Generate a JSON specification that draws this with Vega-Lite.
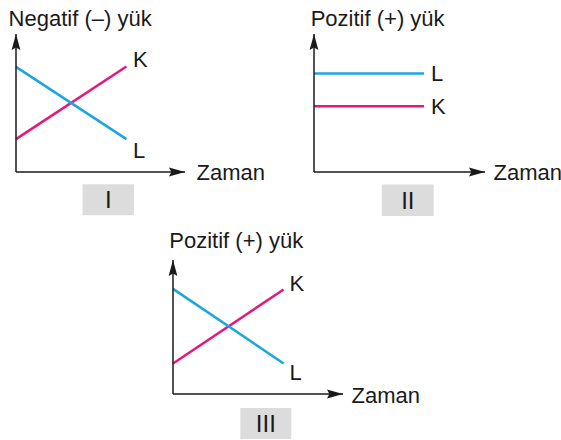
{
  "$schema": "https://vega.github.io/schema/vega-lite/v6.json",
  "padding": {"left": 8, "top": 7, "right": 0, "bottom": 2},
  "config": {
    "view": {"stroke": null},
    "font": "Liberation Sans",
    "axis": {"disable": true},
    "legend": {"disable": true},
    "text": {"color": "#1a1a1a", "fontSize": 22}
  },
  "spacing": 12,
  "vconcat": [
    {
      "bounds": "flush",
      "spacing": 129,
      "hconcat": [
        {
          "width": 169,
          "height": 138,
          "data": {"values": [
            {"seri": "K", "zaman": 0, "yuk": 1.0},
            {"seri": "K", "zaman": 0.98, "yuk": 3.21},
            {"seri": "L", "zaman": 0, "yuk": 3.2},
            {"seri": "L", "zaman": 0.98, "yuk": 1.0}
          ]},
          "layer": [
            {
              "mark": {"type": "line", "strokeWidth": 2.5},
              "encoding": {
                "x": {"field": "zaman", "type": "quantitative", "scale": {"domain": [0, 1.5], "nice": false}, "axis": null},
                "y": {"field": "yuk", "type": "quantitative", "scale": {"domain": [0, 4.2], "nice": false}, "axis": null},
                "color": {"field": "seri", "type": "nominal", "scale": {"domain": ["K", "L"], "range": ["#e6177a", "#1ba6df"]}, "legend": null}
              }
            },
            {
              "transform": [{"filter": "datum.zaman > 0 && datum.seri == 'K'"}],
              "mark": {"type": "text", "align": "left", "baseline": "alphabetic", "dx": 6.5, "dy": 0},
              "encoding": {"x": {"field": "zaman", "type": "quantitative"}, "y": {"field": "yuk", "type": "quantitative"}, "text": {"field": "seri"}}
            },
            {
              "transform": [{"filter": "datum.zaman > 0 && datum.seri == 'L'"}],
              "mark": {"type": "text", "align": "left", "baseline": "alphabetic", "dx": 6.5, "dy": 18.4},
              "encoding": {"x": {"field": "zaman", "type": "quantitative"}, "y": {"field": "yuk", "type": "quantitative"}, "text": {"field": "seri"}}
            },
            {
              "data": {"values": [{}]},
              "mark": {"type": "rule", "color": "#1a1a1a", "strokeWidth": 1.5},
              "encoding": {"x": {"datum": 0, "type": "quantitative"}, "y": {"datum": 0, "type": "quantitative"}, "y2": {"datum": 4.2}}
            },
            {
              "data": {"values": [{}]},
              "mark": {"type": "rule", "color": "#1a1a1a", "strokeWidth": 1.5},
              "encoding": {"x": {"datum": 0, "type": "quantitative"}, "x2": {"datum": 1.5}, "y": {"datum": 0, "type": "quantitative"}}
            },
            {
              "data": {"values": [{}]},
              "mark": {"type": "point", "shape": "M0,0L0.55,2L0,1.7L-0.55,2Z", "size": 256, "filled": true, "opacity": 1, "color": "#1a1a1a"},
              "encoding": {"x": {"datum": 0, "type": "quantitative"}, "y": {"datum": 4.2, "type": "quantitative"}}
            },
            {
              "data": {"values": [{}]},
              "mark": {"type": "point", "shape": "M0,0L-2,-0.55L-1.7,0L-2,0.55Z", "size": 256, "filled": true, "opacity": 1, "color": "#1a1a1a"},
              "encoding": {"x": {"datum": 1.5, "type": "quantitative"}, "y": {"datum": 0, "type": "quantitative"}}
            },
            {
              "data": {"values": [{}]},
              "mark": {"type": "text", "text": "Negatif (–) yük", "align": "left", "baseline": "alphabetic", "dx": -7.4, "dy": -8.3},
              "encoding": {"x": {"datum": 0, "type": "quantitative"}, "y": {"datum": 4.2, "type": "quantitative"}}
            },
            {
              "data": {"values": [{}]},
              "mark": {"type": "text", "text": "Zaman", "align": "left", "baseline": "alphabetic", "dx": 11.5, "dy": 7.6},
              "encoding": {"x": {"datum": 1.5, "type": "quantitative"}, "y": {"datum": 0, "type": "quantitative"}}
            },
            {
              "data": {"values": [{}]},
              "mark": {"type": "rect", "color": "#dcdcdc"},
              "encoding": {"x": {"datum": 0.591, "type": "quantitative"}, "x2": {"datum": 1.047}, "y": {"datum": -0.374, "type": "quantitative"}, "y2": {"datum": -1.318}}
            },
            {
              "data": {"values": [{}]},
              "mark": {"type": "text", "text": "I", "align": "center", "baseline": "alphabetic", "dy": 8.5, "fontSize": 24},
              "encoding": {"x": {"datum": 0.819, "type": "quantitative"}, "y": {"datum": -0.846, "type": "quantitative"}}
            }
          ]
        },
        {
          "width": 171,
          "height": 138,
          "data": {"values": [
            {"seri": "K", "zaman": 0, "yuk": 2.0},
            {"seri": "K", "zaman": 0.965, "yuk": 2.0},
            {"seri": "L", "zaman": 0, "yuk": 3.0},
            {"seri": "L", "zaman": 0.965, "yuk": 3.0}
          ]},
          "layer": [
            {
              "mark": {"type": "line", "strokeWidth": 2.5},
              "encoding": {
                "x": {"field": "zaman", "type": "quantitative", "scale": {"domain": [0, 1.5], "nice": false}, "axis": null},
                "y": {"field": "yuk", "type": "quantitative", "scale": {"domain": [0, 4.2], "nice": false}, "axis": null},
                "color": {"field": "seri", "type": "nominal", "scale": {"domain": ["K", "L"], "range": ["#e6177a", "#1ba6df"]}, "legend": null}
              }
            },
            {
              "transform": [{"filter": "datum.zaman > 0"}],
              "mark": {"type": "text", "align": "left", "baseline": "alphabetic", "dx": 7, "dy": 7.6},
              "encoding": {"x": {"field": "zaman", "type": "quantitative"}, "y": {"field": "yuk", "type": "quantitative"}, "text": {"field": "seri"}}
            },
            {
              "data": {"values": [{}]},
              "mark": {"type": "rule", "color": "#1a1a1a", "strokeWidth": 1.5},
              "encoding": {"x": {"datum": 0, "type": "quantitative"}, "y": {"datum": 0, "type": "quantitative"}, "y2": {"datum": 4.2}}
            },
            {
              "data": {"values": [{}]},
              "mark": {"type": "rule", "color": "#1a1a1a", "strokeWidth": 1.5},
              "encoding": {"x": {"datum": 0, "type": "quantitative"}, "x2": {"datum": 1.5}, "y": {"datum": 0, "type": "quantitative"}}
            },
            {
              "data": {"values": [{}]},
              "mark": {"type": "point", "shape": "M0,0L0.55,2L0,1.7L-0.55,2Z", "size": 256, "filled": true, "opacity": 1, "color": "#1a1a1a"},
              "encoding": {"x": {"datum": 0, "type": "quantitative"}, "y": {"datum": 4.2, "type": "quantitative"}}
            },
            {
              "data": {"values": [{}]},
              "mark": {"type": "point", "shape": "M0,0L-2,-0.55L-1.7,0L-2,0.55Z", "size": 256, "filled": true, "opacity": 1, "color": "#1a1a1a"},
              "encoding": {"x": {"datum": 1.5, "type": "quantitative"}, "y": {"datum": 0, "type": "quantitative"}}
            },
            {
              "data": {"values": [{}]},
              "mark": {"type": "text", "text": "Pozitif (+) yük", "align": "left", "baseline": "alphabetic", "dx": -3.3, "dy": -8.3},
              "encoding": {"x": {"datum": 0, "type": "quantitative"}, "y": {"datum": 4.2, "type": "quantitative"}}
            },
            {
              "data": {"values": [{}]},
              "mark": {"type": "text", "text": "Zaman", "align": "left", "baseline": "alphabetic", "dx": 8.5, "dy": 7.6},
              "encoding": {"x": {"datum": 1.5, "type": "quantitative"}, "y": {"datum": 0, "type": "quantitative"}}
            },
            {
              "data": {"values": [{}]},
              "mark": {"type": "rect", "color": "#dcdcdc"},
              "encoding": {"x": {"datum": 0.595, "type": "quantitative"}, "x2": {"datum": 1.05}, "y": {"datum": -0.383, "type": "quantitative"}, "y2": {"datum": -1.34}}
            },
            {
              "data": {"values": [{}]},
              "mark": {"type": "text", "text": "II", "align": "center", "baseline": "alphabetic", "dy": 8.5, "fontSize": 24},
              "encoding": {"x": {"datum": 0.823, "type": "quantitative"}, "y": {"datum": -0.86, "type": "quantitative"}}
            }
          ]
        }
      ]
    },
    {
      "bounds": "flush",
      "spacing": 10,
      "hconcat": [
        {
          "width": 147,
          "height": 134,
          "data": {"values": [{}]},
          "mark": {"type": "point", "opacity": 0}
        },
        {
          "width": 170,
          "height": 134,
          "data": {"values": [
            {"seri": "K", "zaman": 0, "yuk": 0.93},
            {"seri": "K", "zaman": 0.976, "yuk": 3.18},
            {"seri": "L", "zaman": 0, "yuk": 3.2},
            {"seri": "L", "zaman": 0.976, "yuk": 0.93}
          ]},
          "layer": [
            {
              "mark": {"type": "line", "strokeWidth": 2.5},
              "encoding": {
                "x": {"field": "zaman", "type": "quantitative", "scale": {"domain": [0, 1.5], "nice": false}, "axis": null},
                "y": {"field": "yuk", "type": "quantitative", "scale": {"domain": [0, 4.08], "nice": false}, "axis": null},
                "color": {"field": "seri", "type": "nominal", "scale": {"domain": ["K", "L"], "range": ["#e6177a", "#1ba6df"]}, "legend": null}
              }
            },
            {
              "transform": [{"filter": "datum.zaman > 0 && datum.seri == 'K'"}],
              "mark": {"type": "text", "align": "left", "baseline": "alphabetic", "dx": 6, "dy": 1},
              "encoding": {"x": {"field": "zaman", "type": "quantitative"}, "y": {"field": "yuk", "type": "quantitative"}, "text": {"field": "seri"}}
            },
            {
              "transform": [{"filter": "datum.zaman > 0 && datum.seri == 'L'"}],
              "mark": {"type": "text", "align": "left", "baseline": "alphabetic", "dx": 6, "dy": 16.6},
              "encoding": {"x": {"field": "zaman", "type": "quantitative"}, "y": {"field": "yuk", "type": "quantitative"}, "text": {"field": "seri"}}
            },
            {
              "data": {"values": [{}]},
              "mark": {"type": "rule", "color": "#1a1a1a", "strokeWidth": 1.5},
              "encoding": {"x": {"datum": 0, "type": "quantitative"}, "y": {"datum": 0, "type": "quantitative"}, "y2": {"datum": 4.08}}
            },
            {
              "data": {"values": [{}]},
              "mark": {"type": "rule", "color": "#1a1a1a", "strokeWidth": 1.5},
              "encoding": {"x": {"datum": 0, "type": "quantitative"}, "x2": {"datum": 1.5}, "y": {"datum": 0, "type": "quantitative"}}
            },
            {
              "data": {"values": [{}]},
              "mark": {"type": "point", "shape": "M0,0L0.55,2L0,1.7L-0.55,2Z", "size": 256, "filled": true, "opacity": 1, "color": "#1a1a1a"},
              "encoding": {"x": {"datum": 0, "type": "quantitative"}, "y": {"datum": 4.08, "type": "quantitative"}}
            },
            {
              "data": {"values": [{}]},
              "mark": {"type": "point", "shape": "M0,0L-2,-0.55L-1.7,0L-2,0.55Z", "size": 256, "filled": true, "opacity": 1, "color": "#1a1a1a"},
              "encoding": {"x": {"datum": 1.5, "type": "quantitative"}, "y": {"datum": 0, "type": "quantitative"}}
            },
            {
              "data": {"values": [{}]},
              "mark": {"type": "text", "text": "Pozitif (+) yük", "align": "left", "baseline": "alphabetic", "dx": -3.7, "dy": -12.5},
              "encoding": {"x": {"datum": 0, "type": "quantitative"}, "y": {"datum": 4.08, "type": "quantitative"}}
            },
            {
              "data": {"values": [{}]},
              "mark": {"type": "text", "text": "Zaman", "align": "left", "baseline": "alphabetic", "dx": 8.5, "dy": 9},
              "encoding": {"x": {"datum": 1.5, "type": "quantitative"}, "y": {"datum": 0, "type": "quantitative"}}
            },
            {
              "data": {"values": [{}]},
              "mark": {"type": "rect", "color": "#dcdcdc"},
              "encoding": {"x": {"datum": 0.594, "type": "quantitative"}, "x2": {"datum": 1.044}, "y": {"datum": -0.426, "type": "quantitative"}, "y2": {"datum": -1.37}}
            },
            {
              "data": {"values": [{}]},
              "mark": {"type": "text", "text": "III", "align": "center", "baseline": "alphabetic", "dy": 8.5, "fontSize": 24},
              "encoding": {"x": {"datum": 0.819, "type": "quantitative"}, "y": {"datum": -0.898, "type": "quantitative"}}
            }
          ]
        }
      ]
    }
  ]
}
